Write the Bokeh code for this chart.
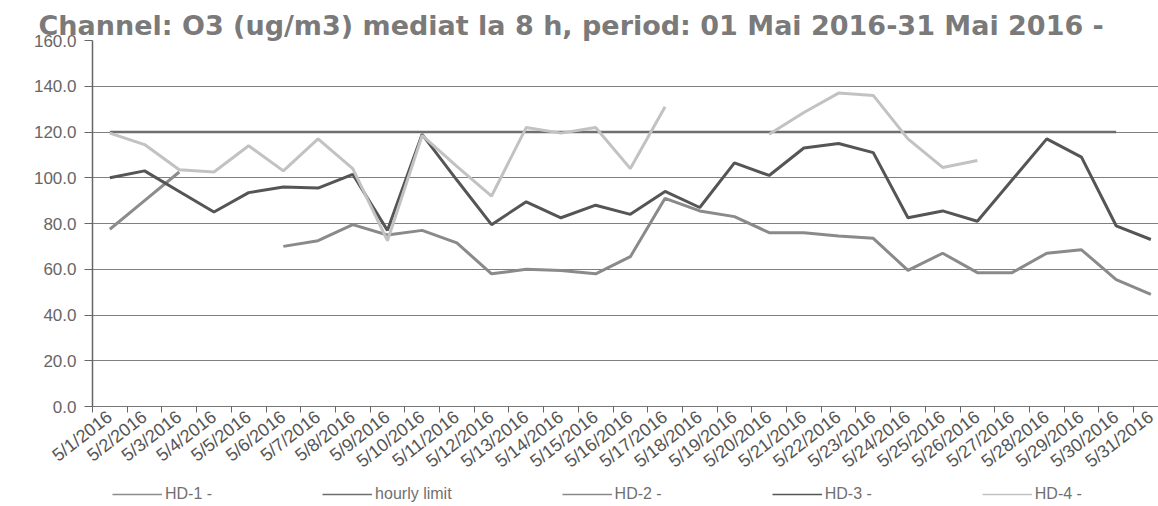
import numpy as np
from bokeh.plotting import figure
from bokeh.layouts import column
from bokeh.models import (FixedTicker, Legend, LegendItem, Range1d,
                          NumeralTickFormatter)
from bokeh.embed import file_html
from bokeh.resources import INLINE

nan = np.nan

dates = ["5/1/2016", "5/2/2016", "5/3/2016", "5/4/2016", "5/5/2016", "5/6/2016",
         "5/7/2016", "5/8/2016", "5/9/2016", "5/10/2016", "5/11/2016", "5/12/2016",
         "5/13/2016", "5/14/2016", "5/15/2016", "5/16/2016", "5/17/2016", "5/18/2016",
         "5/19/2016", "5/20/2016", "5/21/2016", "5/22/2016", "5/23/2016", "5/24/2016",
         "5/25/2016", "5/26/2016", "5/27/2016", "5/28/2016", "5/29/2016", "5/30/2016",
         "5/31/2016"]

hd1 = [77.5, 90.0, 102.5] + [nan] * 28

hourly_limit = [120.0] * 30 + [nan]

hd2 = [nan, nan, nan, nan, nan, 70.0, 72.5, 79.5, 75.0, 77.0, 71.5, 58.0, 60.0,
       59.5, 58.0, 65.5, 91.0, 85.5, 83.0, 76.0, 76.0, 74.5, 73.5, 59.5, 67.0,
       58.5, 58.5, 67.0, 68.5, 55.5, 49.0]

hd3 = [100.0, 103.0, 94.0, 85.0, 93.5, 96.0, 95.5, 101.5, 77.0, 119.0, 99.0,
       79.5, 89.5, 82.5, 88.0, 84.0, 94.0, 87.0, 106.5, 101.0, 113.0, 115.0,
       111.0, 82.5, 85.5, 81.0, 99.0, 117.0, 109.0, 79.0, 73.0]

hd4 = [119.5, 114.5, 103.5, 102.5, 114.0, 103.0, 117.0, 104.0, 72.5, 118.5,
       105.0, 92.0, 122.0, 119.5, 122.0, 104.0, 131.0, nan, nan, 119.0, 128.5,
       137.0, 136.0, 117.0, 104.5, 107.5, nan, nan, nan, nan, nan]

series_names = ["HD-1 -", "hourly limit", "HD-2 -", "HD-3 -", "HD-4 -"]

y_ticks = [0, 20, 40, 60, 80, 100, 120, 140, 160]

x = list(range(1, len(dates) + 1))

colors = {"HD-1 -": "#8c8c8c", "hourly limit": "#6e6e6e", "HD-2 -": "#8a8a8a",
          "HD-3 -": "#555555", "HD-4 -": "#c2c2c2"}
widths = {"HD-1 -": 3, "hourly limit": 2.5, "HD-2 -": 3, "HD-3 -": 3, "HD-4 -": 3}

data = {"HD-1 -": hd1, "hourly limit": hourly_limit, "HD-2 -": hd2,
        "HD-3 -": hd3, "HD-4 -": hd4}

p = figure(width=1158, height=482, output_backend="svg", toolbar_location=None,
           x_range=Range1d(0.5, 31.22), y_range=Range1d(0, 160),
           min_border_left=92, min_border_top=40, min_border_right=0,
           min_border_bottom=73)

p.title.text = "Channel: O3 (ug/m3) mediat la 8 h, period: 01 Mai 2016-31 Mai 2016 -"
p.title.text_font = "DejaVu Sans"
p.title.text_font_style = "bold"
p.title.text_font_size = "27px"
p.title.text_color = "#7a7a7a"
p.title.align = "left"
p.title.offset = -54
p.title.standoff = 0

p.outline_line_color = None
p.background_fill_color = "white"
p.border_fill_color = "white"

# axes
p.yaxis.ticker = FixedTicker(ticks=y_ticks)
p.yaxis.formatter = NumeralTickFormatter(format="0.0")
p.yaxis.major_tick_out = 8
p.yaxis.major_tick_in = 0
p.yaxis.minor_tick_out = 0
p.yaxis.minor_tick_in = 0
p.yaxis.major_label_standoff = 8
p.yaxis.major_label_text_font = "Liberation Sans"
p.yaxis.major_label_text_font_size = "17px"
p.yaxis.major_label_text_color = "#666666"
p.yaxis.axis_line_color = "#666666"
p.yaxis.axis_line_width = 1.5
p.yaxis.major_tick_line_color = "#666666"

p.xaxis.ticker = FixedTicker(ticks=x, minor_ticks=[i + 0.5 for i in range(0, 32)])
p.xaxis.major_label_overrides = {i: d for i, d in zip(x, dates)}
p.xaxis.major_label_orientation = 0.66
p.xaxis.major_tick_out = 0
p.xaxis.major_tick_in = 0
p.xaxis.minor_tick_out = 6
p.xaxis.minor_tick_in = 0
p.xaxis.minor_tick_line_color = "#666666"
p.xaxis.major_label_standoff = 2
p.xaxis.major_label_text_font = "Liberation Sans"
p.xaxis.major_label_text_font_size = "18px"
p.xaxis.major_label_text_color = "#555555"
p.xaxis.axis_line_color = "#777777"
p.xaxis.axis_line_width = 1

p.xgrid.visible = False
p.ygrid.ticker = FixedTicker(ticks=y_ticks)
p.ygrid.grid_line_color = "#808080"
p.ygrid.grid_line_width = 1

# series
for name in ["hourly limit", "HD-2 -", "HD-1 -", "HD-3 -", "HD-4 -"]:
    p.line(x, data[name], line_color=colors[name], line_width=widths[name])

# legend strip under the chart (its lines lie outside this strip's ranges)
leg = figure(width=1158, height=24, output_backend="svg", toolbar_location=None,
             x_range=Range1d(-2, -1), y_range=Range1d(-2, -1),
             min_border=0, outline_line_color=None)
leg.axis.visible = False
leg.grid.visible = False
items = []
for name in series_names:
    r = leg.line(x, data[name], line_color=colors[name], line_width=1.5)
    items.append(LegendItem(label=name, renderers=[r]))
legend = Legend(items=items, orientation="horizontal", location=(20, 3),
                glyph_width=50, glyph_height=14, label_standoff=3, spacing=110,
                label_text_font="Liberation Sans", label_text_font_size="16px",
                label_text_color="#707070", label_height=14,
                padding=0, margin=0, border_line_color=None,
                background_fill_alpha=0)
leg.add_layout(legend)

open("out.html", "w").write(file_html(column(p, leg, spacing=0), INLINE))
